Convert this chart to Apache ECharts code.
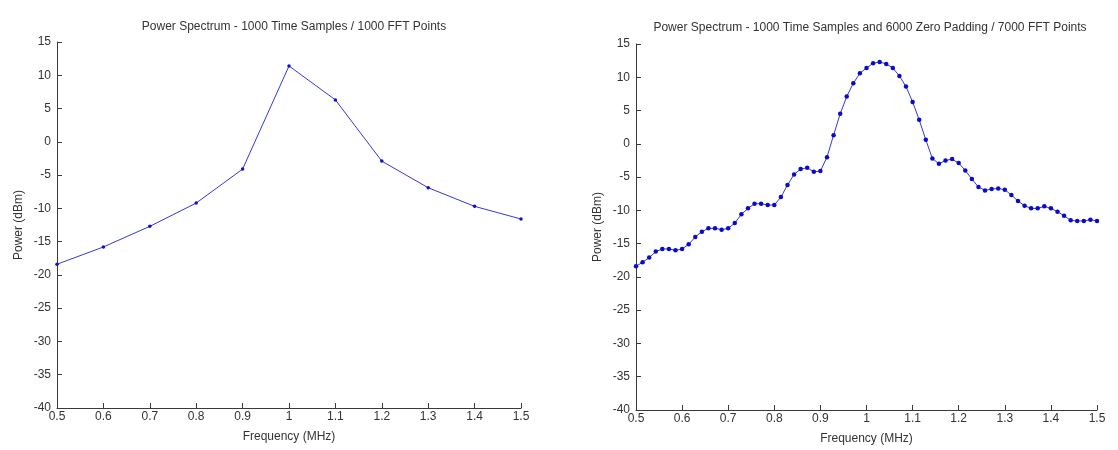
<!DOCTYPE html>
<html>
<head>
<meta charset="utf-8">
<script src="https://cdn.jsdelivr.net/npm/echarts@6/dist/echarts.min.js"></script>
<style>html,body{margin:0;padding:0;background:#fff;}#c{width:1118px;height:450px;}</style>
</head>
<body>
<div id="c"></div>
<script>
// Left: 1000 FFT points
var leftFreq = [0.5, 0.6, 0.7, 0.8, 0.9, 1.0, 1.1, 1.2, 1.3, 1.4, 1.5];
var leftPower = [-18.4, -15.8, -12.7, -9.2, -4.1, 11.4, 6.3, -2.9, -6.9, -9.7, -11.6];

// Right: 7000 FFT points (zero padded)
var rightFreq = [0.5000, 0.5143, 0.5286, 0.5429, 0.5571, 0.5714, 0.5857, 0.6000, 0.6143, 0.6286,
  0.6429, 0.6571, 0.6714, 0.6857, 0.7000, 0.7143, 0.7286, 0.7429, 0.7571, 0.7714,
  0.7857, 0.8000, 0.8143, 0.8286, 0.8429, 0.8571, 0.8714, 0.8857, 0.9000, 0.9143,
  0.9286, 0.9429, 0.9571, 0.9714, 0.9857, 1.0000, 1.0143, 1.0286, 1.0429, 1.0571,
  1.0714, 1.0857, 1.1000, 1.1143, 1.1286, 1.1429, 1.1571, 1.1714, 1.1857, 1.2000,
  1.2143, 1.2286, 1.2429, 1.2571, 1.2714, 1.2857, 1.3000, 1.3143, 1.3286, 1.3429,
  1.3571, 1.3714, 1.3857, 1.4000, 1.4143, 1.4286, 1.4429, 1.4571, 1.4714, 1.4857, 1.5000];
var rightPower = [-18.4, -17.8, -17.1, -16.2, -15.8, -15.8, -16.0, -15.8, -15.1, -14.0,
  -13.2, -12.7, -12.7, -12.9, -12.7, -11.9, -10.6, -9.7, -9.0, -9.0,
  -9.2, -9.2, -8.0, -6.2, -4.6, -3.8, -3.6, -4.2, -4.1, -2.0,
  1.3, 4.5, 7.1, 9.1, 10.6, 11.4, 12.1, 12.3, 12.0, 11.4,
  10.2, 8.6, 6.3, 3.6, 0.6, -2.2, -3.0, -2.5, -2.3, -2.9,
  -4.0, -5.3, -6.5, -7.0, -6.8, -6.7, -6.9, -7.7, -8.6, -9.3,
  -9.7, -9.7, -9.4, -9.7, -10.2, -10.8, -11.5, -11.6, -11.6, -11.4, -11.6];

var xTicks = [0.5, 0.6, 0.7, 0.8, 0.9, 1, 1.1, 1.2, 1.3, 1.4, 1.5];
var yTicks = [-40, -35, -30, -25, -20, -15, -10, -5, 0, 5, 10, 15];

var titles = ['Power Spectrum - 1000 Time Samples / 1000 FFT Points',
  'Power Spectrum - 1000 Time Samples and 6000 Zero Padding / 7000 FFT Points'];

function zip(a, b) { return a.map(function (v, i) { return [v, b[i]]; }); }

var font = 'Liberation Sans, Arial, sans-serif';
var txt = '#333';
var axisCol = '#3a3a3a';

function xAxis(gi) {
  return {
    type: 'value', gridIndex: gi, min: xTicks[0], max: xTicks[xTicks.length - 1], interval: 0.1,
    name: 'Frequency (MHz)', nameLocation: 'middle', nameGap: 23,
    nameTextStyle: { color: txt, fontSize: 12, fontFamily: font },
    axisLine: { show: true, onZero: false, lineStyle: { color: axisCol, width: 1 } },
    axisTick: { show: true, inside: true, length: 5, lineStyle: { color: axisCol } },
    axisLabel: { color: txt, fontSize: 12, fontFamily: font, margin: 3,
      formatter: function (v) { return String(+v.toFixed(1)); } },
    splitLine: { show: false }
  };
}
function yAxis(gi) {
  return {
    type: 'value', gridIndex: gi, min: yTicks[0], max: yTicks[yTicks.length - 1], interval: 5,
    name: 'Power (dBm)', nameLocation: 'middle', nameGap: 32,
    nameTextStyle: { color: txt, fontSize: 12, fontFamily: font },
    axisLine: { show: true, onZero: false, lineStyle: { color: axisCol, width: 1 } },
    axisTick: { show: true, inside: true, length: 5, lineStyle: { color: axisCol } },
    axisLabel: { color: txt, fontSize: 12, fontFamily: font, margin: 6 },
    splitLine: { show: false }
  };
}

var chart = echarts.init(document.getElementById('c'), null, { renderer: 'canvas' });
chart.setOption({
  animation: false,
  backgroundColor: '#fff',
  title: [
    { text: titles[0], left: 289, top: 16, textAlign: 'center',
      textStyle: { color: txt, fontSize: 12, fontWeight: 'normal', fontFamily: font } },
    { text: titles[1], left: 865, top: 17, textAlign: 'center',
      textStyle: { color: txt, fontSize: 12, fontWeight: 'normal', fontFamily: font } }
  ],
  grid: [
    { left: 57, top: 42, width: 464, height: 366 },
    { left: 636, top: 44, width: 461, height: 366 }
  ],
  xAxis: [xAxis(0), xAxis(1)],
  yAxis: [yAxis(0), yAxis(1)],
  series: [
    { type: 'line', xAxisIndex: 0, yAxisIndex: 0, data: zip(leftFreq, leftPower),
      symbol: 'circle', symbolSize: 3.5, showSymbol: true,
      lineStyle: { color: '#3838d8', width: 1 }, itemStyle: { color: '#1010c8' } },
    { type: 'line', xAxisIndex: 1, yAxisIndex: 1, data: zip(rightFreq, rightPower),
      symbol: 'circle', symbolSize: 4.5, showSymbol: true,
      lineStyle: { color: '#3838d8', width: 1 }, itemStyle: { color: '#0a0ac8' } }
  ]
});
</script>
</body>
</html>
